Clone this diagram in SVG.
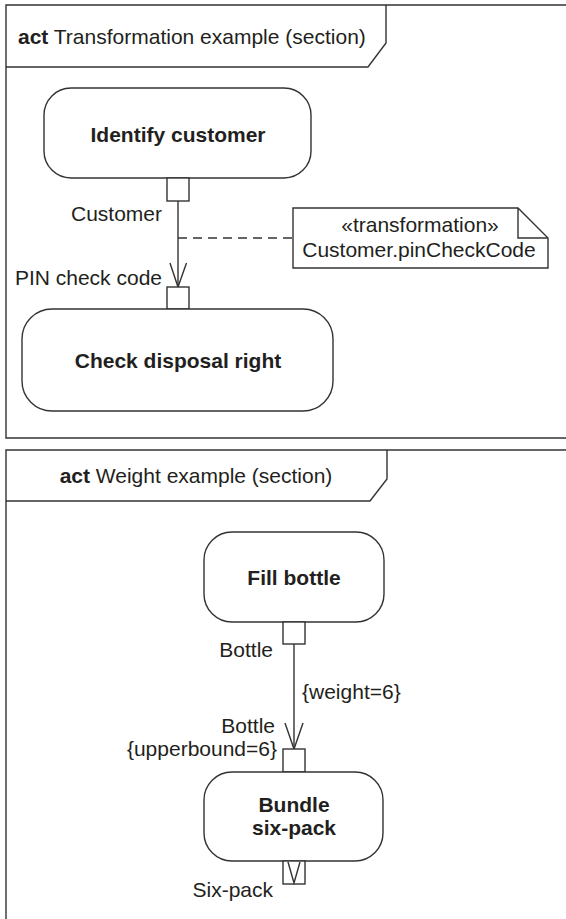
<svg xmlns="http://www.w3.org/2000/svg" width="566" height="919" viewBox="0 0 566 919">
<style>
  text { font-family: "Liberation Sans", Arial, sans-serif; font-size: 21px; fill: #231f20; }
  .b { font-weight: bold; }
  .ln { fill: none; stroke: #333; stroke-width: 1.4; }
  .node { fill: #fff; stroke: #333; stroke-width: 1.4; }
  .pin { fill: #fff; stroke: #333; stroke-width: 1.4; }
  .dash { fill: none; stroke: #333; stroke-width: 1.4; stroke-dasharray: 9 6; }
  .mid { text-anchor: middle; }
  .end { text-anchor: end; }
</style>
<rect width="566" height="919" fill="#fff"/>

<g id="frame-transformation">
  <path class="ln" d="M600,5 H6 V438 H600"/>
  <path class="ln" d="M6,67 H368 L386,43 V5"/>
  <text x="18" y="44"><tspan class="b">act</tspan> Transformation example (section)</text>
</g>

<g id="frame-weight">
  <path class="ln" d="M600,450 H6 V930"/>
  <path class="ln" d="M6,501 H370 L387,479 V450"/>
  <text x="196" y="483" class="mid"><tspan class="b">act</tspan> Weight example (section)</text>
</g>

<g id="connectors">
  <line class="ln" x1="178" y1="201" x2="178" y2="287"/>
  <polyline class="ln" points="170,263 178,287 186.5,263"/>
  <line class="dash" x1="178" y1="238" x2="293" y2="238"/>
  <line class="ln" x1="294" y1="644" x2="294" y2="749"/>
  <polyline class="ln" points="285,723 294,749 303,723"/>
</g>

<g id="node-identify-customer">
  <rect class="node" x="44" y="88" width="267" height="90" rx="27"/>
  <text x="178" y="142" class="b mid">Identify customer</text>
</g>
<g id="pin-customer">
  <rect class="pin" x="167" y="178" width="22" height="23"/>
  <text x="162" y="221" class="end">Customer</text>
</g>

<g id="note-transformation">
  <path class="node" d="M293,208 H518 L548,238 V268 H293 Z"/>
  <path class="ln" d="M518,208 V238 H548"/>
  <text x="420" y="232" class="mid">«transformation»</text>
  <text x="419" y="257" class="mid">Customer.pinCheckCode</text>
</g>

<g id="pin-pin-check-code">
  <rect class="pin" x="167" y="287" width="22" height="22"/>
  <text x="162" y="285" class="end">PIN check code</text>
</g>
<g id="node-check-disposal-right">
  <rect class="node" x="22" y="309" width="311" height="102" rx="30"/>
  <text x="178" y="368" class="b mid">Check disposal right</text>
</g>

<g id="node-fill-bottle">
  <rect class="node" x="204" y="532" width="180" height="90" rx="28"/>
  <text x="294" y="585" class="b mid">Fill bottle</text>
</g>
<g id="pin-bottle-out">
  <rect class="pin" x="283" y="622" width="22" height="22"/>
  <text x="273" y="657" class="end">Bottle</text>
</g>
<text x="302" y="699">{weight=6}</text>

<g id="pin-bottle-in">
  <rect class="pin" x="283" y="749" width="22" height="23"/>
  <text x="275" y="733" class="end">Bottle</text>
  <text x="277" y="756" class="end">{upperbound=6}</text>
</g>
<g id="node-bundle-six-pack">
  <rect class="node" x="204" y="772" width="179" height="89" rx="28"/>
  <text x="294" y="812" class="b mid">Bundle</text>
  <text x="294" y="835" class="b mid">six-pack</text>
</g>
<g id="pin-six-pack">
  <rect class="pin" x="283" y="861" width="22" height="23"/>
  <polyline class="ln" points="288,862 294,883 300,862"/>
  <text x="273" y="897" class="end">Six-pack</text>
</g>
</svg>
